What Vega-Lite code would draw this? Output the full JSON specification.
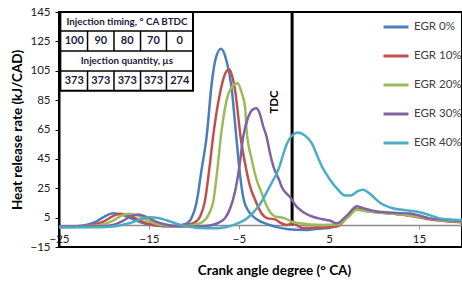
{
  "$schema": "https://vega.github.io/schema/vega-lite/v6.json",
  "width": 403,
  "height": 235,
  "autosize": {"type": "none"},
  "padding": {"left": 59, "top": 12, "right": 0, "bottom": 35},
  "background": "white",
  "config": {
    "font": "Lato",
    "view": {"stroke": "black", "strokeWidth": 2}
  },
  "datasets": {
    "curves": [
      {"s":"EGR 0%","x":-25,"y":-1},{"s":"EGR 0%","x":-23,"y":-0.8},{"s":"EGR 0%","x":-22,"y":0},{"s":"EGR 0%","x":-21,"y":2},{"s":"EGR 0%","x":-20,"y":5.5},{"s":"EGR 0%","x":-19,"y":8},{"s":"EGR 0%","x":-18,"y":7},{"s":"EGR 0%","x":-17,"y":4.5},{"s":"EGR 0%","x":-16,"y":2},{"s":"EGR 0%","x":-15,"y":0.3},{"s":"EGR 0%","x":-14,"y":-0.5},{"s":"EGR 0%","x":-13,"y":-0.9},{"s":"EGR 0%","x":-12,"y":-0.6},{"s":"EGR 0%","x":-11,"y":0.5},{"s":"EGR 0%","x":-10.4,"y":3.4},{"s":"EGR 0%","x":-9.7,"y":15.9},{"s":"EGR 0%","x":-9.15,"y":38},{"s":"EGR 0%","x":-8.6,"y":60},{"s":"EGR 0%","x":-8.0,"y":98},{"s":"EGR 0%","x":-7.6,"y":113},{"s":"EGR 0%","x":-7.0,"y":120},{"s":"EGR 0%","x":-6.4,"y":112},{"s":"EGR 0%","x":-5.8,"y":92},{"s":"EGR 0%","x":-5.3,"y":60},{"s":"EGR 0%","x":-4.9,"y":35},{"s":"EGR 0%","x":-4.5,"y":18},{"s":"EGR 0%","x":-4.0,"y":10},{"s":"EGR 0%","x":-3.6,"y":6.8},{"s":"EGR 0%","x":-2.8,"y":3},{"s":"EGR 0%","x":-2.1,"y":1.1},{"s":"EGR 0%","x":-1.5,"y":-0.2},{"s":"EGR 0%","x":-0.5,"y":-1.8},{"s":"EGR 0%","x":0.5,"y":-2.9},{"s":"EGR 0%","x":1.5,"y":-3.3},{"s":"EGR 0%","x":2.3,"y":-3.4},{"s":"EGR 0%","x":3.5,"y":-2.8},{"s":"EGR 0%","x":4.6,"y":-2.2},{"s":"EGR 0%","x":5.9,"y":-0.7},{"s":"EGR 0%","x":7,"y":6},{"s":"EGR 0%","x":8.1,"y":10.8},{"s":"EGR 0%","x":9,"y":9.6},{"s":"EGR 0%","x":10,"y":8.8},{"s":"EGR 0%","x":11,"y":8.3},{"s":"EGR 0%","x":12.5,"y":7.5},{"s":"EGR 0%","x":14,"y":6.5},{"s":"EGR 0%","x":15,"y":5.5},{"s":"EGR 0%","x":16,"y":4.5},{"s":"EGR 0%","x":17,"y":3.5},{"s":"EGR 0%","x":18,"y":2.8},{"s":"EGR 0%","x":19.8,"y":2},
      {"s":"EGR 10%","x":-25,"y":-1},{"s":"EGR 10%","x":-22,"y":-0.7},{"s":"EGR 10%","x":-21,"y":0.5},{"s":"EGR 10%","x":-20,"y":2.5},{"s":"EGR 10%","x":-19,"y":6},{"s":"EGR 10%","x":-18.2,"y":7.7},{"s":"EGR 10%","x":-17.2,"y":6.5},{"s":"EGR 10%","x":-16.2,"y":3.5},{"s":"EGR 10%","x":-15.2,"y":1},{"s":"EGR 10%","x":-14,"y":-0.4},{"s":"EGR 10%","x":-13,"y":-0.8},{"s":"EGR 10%","x":-12,"y":-0.8},{"s":"EGR 10%","x":-11,"y":-0.3},{"s":"EGR 10%","x":-10.5,"y":0.5},{"s":"EGR 10%","x":-9.9,"y":1.8},{"s":"EGR 10%","x":-9.3,"y":6},{"s":"EGR 10%","x":-8.8,"y":15.9},{"s":"EGR 10%","x":-8.3,"y":38},{"s":"EGR 10%","x":-7.86,"y":61},{"s":"EGR 10%","x":-7.1,"y":90},{"s":"EGR 10%","x":-6.6,"y":102},{"s":"EGR 10%","x":-6.1,"y":106},{"s":"EGR 10%","x":-5.7,"y":100},{"s":"EGR 10%","x":-5.44,"y":92},{"s":"EGR 10%","x":-4.78,"y":58},{"s":"EGR 10%","x":-4.2,"y":38},{"s":"EGR 10%","x":-3.8,"y":27},{"s":"EGR 10%","x":-3.2,"y":17},{"s":"EGR 10%","x":-2.5,"y":8},{"s":"EGR 10%","x":-1.8,"y":4.5},{"s":"EGR 10%","x":-1.0,"y":3.8},{"s":"EGR 10%","x":-0.3,"y":1.2},{"s":"EGR 10%","x":0.3,"y":0},{"s":"EGR 10%","x":1.0,"y":1.2},{"s":"EGR 10%","x":2.0,"y":-2},{"s":"EGR 10%","x":3.5,"y":-1.8},{"s":"EGR 10%","x":5,"y":-1.5},{"s":"EGR 10%","x":6,"y":-0.8},{"s":"EGR 10%","x":7,"y":5},{"s":"EGR 10%","x":8.1,"y":11},{"s":"EGR 10%","x":9,"y":9.8},{"s":"EGR 10%","x":10,"y":9},{"s":"EGR 10%","x":11,"y":8.3},{"s":"EGR 10%","x":12.5,"y":7.5},{"s":"EGR 10%","x":14,"y":6.3},{"s":"EGR 10%","x":15,"y":5.2},{"s":"EGR 10%","x":16,"y":4},{"s":"EGR 10%","x":17,"y":3.2},{"s":"EGR 10%","x":18,"y":2.5},{"s":"EGR 10%","x":19.8,"y":1.8},
      {"s":"EGR 20%","x":-25,"y":-1},{"s":"EGR 20%","x":-21,"y":-0.6},{"s":"EGR 20%","x":-20,"y":0.5},{"s":"EGR 20%","x":-19,"y":3},{"s":"EGR 20%","x":-18,"y":6.5},{"s":"EGR 20%","x":-17.3,"y":7.7},{"s":"EGR 20%","x":-16.3,"y":6.5},{"s":"EGR 20%","x":-15.3,"y":3.5},{"s":"EGR 20%","x":-14.3,"y":1},{"s":"EGR 20%","x":-13,"y":-0.6},{"s":"EGR 20%","x":-12,"y":-0.9},{"s":"EGR 20%","x":-10.5,"y":-0.5},{"s":"EGR 20%","x":-9.5,"y":0.8},{"s":"EGR 20%","x":-9.1,"y":1.8},{"s":"EGR 20%","x":-8.3,"y":8},{"s":"EGR 20%","x":-7.86,"y":15.9},{"s":"EGR 20%","x":-7.4,"y":38},{"s":"EGR 20%","x":-7.0,"y":61},{"s":"EGR 20%","x":-6.37,"y":85},{"s":"EGR 20%","x":-5.8,"y":94},{"s":"EGR 20%","x":-5.15,"y":96.5},{"s":"EGR 20%","x":-4.7,"y":90},{"s":"EGR 20%","x":-4.33,"y":80.5},{"s":"EGR 20%","x":-4.15,"y":64},{"s":"EGR 20%","x":-3.6,"y":45},{"s":"EGR 20%","x":-3.1,"y":32},{"s":"EGR 20%","x":-2.5,"y":22},{"s":"EGR 20%","x":-2.0,"y":14},{"s":"EGR 20%","x":-1.5,"y":8.5},{"s":"EGR 20%","x":-1.0,"y":5.8},{"s":"EGR 20%","x":-0.4,"y":5.3},{"s":"EGR 20%","x":0.1,"y":4.5},{"s":"EGR 20%","x":0.85,"y":2.3},{"s":"EGR 20%","x":2,"y":1},{"s":"EGR 20%","x":3,"y":0.3},{"s":"EGR 20%","x":4.2,"y":0},{"s":"EGR 20%","x":6,"y":0.3},{"s":"EGR 20%","x":7,"y":4.5},{"s":"EGR 20%","x":8.1,"y":10.3},{"s":"EGR 20%","x":9,"y":9.5},{"s":"EGR 20%","x":10,"y":8.8},{"s":"EGR 20%","x":11,"y":8.2},{"s":"EGR 20%","x":12.5,"y":7.5},{"s":"EGR 20%","x":14,"y":6.5},{"s":"EGR 20%","x":15,"y":5.5},{"s":"EGR 20%","x":16,"y":4.5},{"s":"EGR 20%","x":17,"y":3.5},{"s":"EGR 20%","x":18,"y":2.8},{"s":"EGR 20%","x":19.8,"y":2},
      {"s":"EGR 30%","x":-25,"y":-1},{"s":"EGR 30%","x":-20,"y":-0.8},{"s":"EGR 30%","x":-19,"y":0},{"s":"EGR 30%","x":-18,"y":2.5},{"s":"EGR 30%","x":-17,"y":6},{"s":"EGR 30%","x":-16.2,"y":7.2},{"s":"EGR 30%","x":-15.3,"y":5.5},{"s":"EGR 30%","x":-14.3,"y":2.5},{"s":"EGR 30%","x":-13.3,"y":0.5},{"s":"EGR 30%","x":-12,"y":-0.8},{"s":"EGR 30%","x":-10,"y":-1},{"s":"EGR 30%","x":-8.5,"y":-0.6},{"s":"EGR 30%","x":-8,"y":0},{"s":"EGR 30%","x":-7.3,"y":1.5},{"s":"EGR 30%","x":-6.56,"y":4.5},{"s":"EGR 30%","x":-6.0,"y":11},{"s":"EGR 30%","x":-5.44,"y":22.7},{"s":"EGR 30%","x":-5.0,"y":38},{"s":"EGR 30%","x":-4.5,"y":61},{"s":"EGR 30%","x":-4.0,"y":73},{"s":"EGR 30%","x":-3.5,"y":78.5},{"s":"EGR 30%","x":-3.1,"y":79.5},{"s":"EGR 30%","x":-2.7,"y":76},{"s":"EGR 30%","x":-2.3,"y":67},{"s":"EGR 30%","x":-1.93,"y":60},{"s":"EGR 30%","x":-1.56,"y":49},{"s":"EGR 30%","x":-1.19,"y":40},{"s":"EGR 30%","x":-0.5,"y":30},{"s":"EGR 30%","x":-0.26,"y":26},{"s":"EGR 30%","x":0.67,"y":19},{"s":"EGR 30%","x":1.4,"y":12.5},{"s":"EGR 30%","x":2.2,"y":8.5},{"s":"EGR 30%","x":3.2,"y":5.6},{"s":"EGR 30%","x":4.2,"y":4},{"s":"EGR 30%","x":5.1,"y":3},{"s":"EGR 30%","x":5.85,"y":1.1},{"s":"EGR 30%","x":7,"y":6.5},{"s":"EGR 30%","x":8.1,"y":12.8},{"s":"EGR 30%","x":9,"y":11},{"s":"EGR 30%","x":10,"y":9.5},{"s":"EGR 30%","x":11,"y":8.8},{"s":"EGR 30%","x":12.5,"y":8.2},{"s":"EGR 30%","x":14,"y":7.8},{"s":"EGR 30%","x":15,"y":6.5},{"s":"EGR 30%","x":16.2,"y":4.5},{"s":"EGR 30%","x":17.5,"y":3.8},{"s":"EGR 30%","x":18.5,"y":3.2},{"s":"EGR 30%","x":19.8,"y":2.5},
      {"s":"EGR 40%","x":-25,"y":-1.8},{"s":"EGR 40%","x":-21,"y":-1.6},{"s":"EGR 40%","x":-19,"y":-1},{"s":"EGR 40%","x":-18,"y":0},{"s":"EGR 40%","x":-17,"y":1.5},{"s":"EGR 40%","x":-16,"y":3.8},{"s":"EGR 40%","x":-15,"y":5.2},{"s":"EGR 40%","x":-14,"y":4.8},{"s":"EGR 40%","x":-13,"y":3},{"s":"EGR 40%","x":-12,"y":1},{"s":"EGR 40%","x":-11,"y":-0.8},{"s":"EGR 40%","x":-9.5,"y":-2},{"s":"EGR 40%","x":-8,"y":-2.3},{"s":"EGR 40%","x":-6.5,"y":-1.5},{"s":"EGR 40%","x":-5.1,"y":1.3},{"s":"EGR 40%","x":-4.2,"y":4},{"s":"EGR 40%","x":-3.5,"y":8},{"s":"EGR 40%","x":-2.8,"y":13},{"s":"EGR 40%","x":-2.3,"y":18},{"s":"EGR 40%","x":-1.6,"y":26},{"s":"EGR 40%","x":-0.6,"y":38},{"s":"EGR 40%","x":0.3,"y":55},{"s":"EGR 40%","x":1.0,"y":61.5},{"s":"EGR 40%","x":1.6,"y":63},{"s":"EGR 40%","x":2.3,"y":61},{"s":"EGR 40%","x":3.1,"y":55.6},{"s":"EGR 40%","x":3.7,"y":47},{"s":"EGR 40%","x":4.2,"y":40},{"s":"EGR 40%","x":5.1,"y":31},{"s":"EGR 40%","x":6.0,"y":24},{"s":"EGR 40%","x":6.8,"y":20},{"s":"EGR 40%","x":7.4,"y":20},{"s":"EGR 40%","x":8.2,"y":23},{"s":"EGR 40%","x":8.8,"y":24},{"s":"EGR 40%","x":9.5,"y":21.5},{"s":"EGR 40%","x":10.7,"y":15},{"s":"EGR 40%","x":12.1,"y":11.4},{"s":"EGR 40%","x":13.5,"y":10},{"s":"EGR 40%","x":14.7,"y":9.1},{"s":"EGR 40%","x":15.8,"y":7.5},{"s":"EGR 40%","x":17.3,"y":4.5},{"s":"EGR 40%","x":18.5,"y":3.8},{"s":"EGR 40%","x":19.8,"y":3.4}
    ],
    "tableBox": [{"x": -24.85, "x2": -10.11, "y": 145, "y2": 91.4}],
    "tableRules": [
      {"x": -24.85, "x2": -10.11, "y": 132.1, "y2": 132.1},
      {"x": -24.85, "x2": -10.11, "y": 118.4, "y2": 118.4},
      {"x": -24.85, "x2": -10.11, "y": 104.8, "y2": 104.8},
      {"x": -21.83, "x2": -21.83, "y": 132.1, "y2": 118.4},
      {"x": -18.89, "x2": -18.89, "y": 132.1, "y2": 118.4},
      {"x": -15.94, "x2": -15.94, "y": 132.1, "y2": 118.4},
      {"x": -13.06, "x2": -13.06, "y": 132.1, "y2": 118.4},
      {"x": -21.83, "x2": -21.83, "y": 104.8, "y2": 91.4},
      {"x": -18.89, "x2": -18.89, "y": 104.8, "y2": 91.4},
      {"x": -15.94, "x2": -15.94, "y": 104.8, "y2": 91.4},
      {"x": -13.06, "x2": -13.06, "y": 104.8, "y2": 91.4}
    ],
    "tableHead": [
      {"t": "Injection timing, ° CA BTDC", "x": -17.45, "y": 138.4},
      {"t": "Injection quantity, µs", "x": -17.45, "y": 111.4}
    ],
    "tableNum": [
      {"t": "100", "x": -23.3, "y": 125.2},
      {"t": "90", "x": -20.36, "y": 125.2},
      {"t": "80", "x": -17.42, "y": 125.2},
      {"t": "70", "x": -14.5, "y": 125.2},
      {"t": "0", "x": -11.58, "y": 125.2},
      {"t": "373", "x": -23.3, "y": 98.2},
      {"t": "373", "x": -20.36, "y": 98.2},
      {"t": "373", "x": -17.42, "y": 98.2},
      {"t": "373", "x": -14.5, "y": 98.2},
      {"t": "274", "x": -11.58, "y": 98.2}
    ],
    "tdc": [{"x": 0.9, "y": 0, "y2": 145}],
    "tdcText": [{"t": "TDC", "x": -1.0, "y": 83.7}]
  },
  "encoding": {
    "x": {
      "field": "x", "type": "quantitative",
      "scale": {"domain": [-25, 19.78], "nice": false, "zero": false},
      "axis": {
        "title": "Crank angle degree (° CA)",
        "values": [-25, -15, -5, 5, 15],
        "offset": -22,
        "domainColor": "#8c8c8c", "domainWidth": 1.5,
        "tickColor": "#8c8c8c", "tickSize": 4,
        "labelFontSize": 11.5, "labelColor": "#222222", "labelPadding": 4,
        "labelFlush": false, "labelOverlap": false,
        "grid": false,
        "titleFontSize": 13.5, "titleFontWeight": "bold", "titleColor": "#000000",
        "titleX": 215, "titleY": 45, "titleBaseline": "middle", "titleAnchor": "middle"
      }
    },
    "y": {
      "field": "y", "type": "quantitative",
      "scale": {"domain": [-15, 145], "nice": false, "zero": false},
      "axis": {
        "title": "Heat release rate (kJ/CAD)",
        "values": [-15, 5, 25, 45, 65, 85, 105, 125, 145],
        "domainColor": "#000000", "domainWidth": 2,
        "tickColor": "#000000", "tickSize": 4,
        "labelFontSize": 11.5, "labelColor": "#222222", "labelPadding": 5,
        "labelFlush": false, "labelOverlap": false,
        "grid": false,
        "titleFontSize": 13.5, "titleFontWeight": "bold", "titleColor": "#000000",
        "titleX": -42, "titleY": 117.5, "titleBaseline": "middle", "titleAnchor": "middle"
      }
    }
  },
  "layer": [
    {
      "data": {"name": "tableBox"},
      "mark": {"type": "rect", "fill": "white", "stroke": "black", "strokeWidth": 2},
      "encoding": {"x2": {"field": "x2"}, "y2": {"field": "y2"}}
    },
    {
      "data": {"name": "tableRules"},
      "mark": {"type": "rule", "stroke": "black", "strokeWidth": 1.5},
      "encoding": {"x2": {"field": "x2"}, "y2": {"field": "y2"}}
    },
    {
      "data": {"name": "tableHead"},
      "mark": {"type": "text", "fontSize": 9.8, "fontWeight": "bold", "color": "#1b1b3a", "baseline": "middle", "align": "center"},
      "encoding": {"text": {"field": "t"}}
    },
    {
      "data": {"name": "tableNum"},
      "mark": {"type": "text", "fontSize": 11, "fontWeight": "bold", "color": "#1b1b3a", "baseline": "middle", "align": "center"},
      "encoding": {"text": {"field": "t"}}
    },
    {
      "data": {"name": "tdc"},
      "mark": {"type": "rule", "stroke": "black", "strokeWidth": 3},
      "encoding": {"y2": {"field": "y2"}}
    },
    {
      "data": {"name": "tdcText"},
      "mark": {"type": "text", "fontSize": 11.5, "fontWeight": "bold", "color": "black", "angle": 270, "baseline": "middle", "align": "center"},
      "encoding": {"text": {"field": "t"}}
    },
    {
      "data": {"name": "curves"},
      "mark": {"type": "line", "strokeWidth": 2.5, "interpolate": "monotone", "clip": true},
      "encoding": {
        "color": {
          "field": "s", "type": "nominal",
          "scale": {"domain": ["EGR 0%", "EGR 10%", "EGR 20%", "EGR 30%", "EGR 40%"], "range": ["#4A7EBB", "#C0504D", "#9BBB59", "#8064A2", "#4BACC6"]},
          "legend": {
            "orient": "none", "legendX": 323, "legendY": 1, "title": null,
            "symbolType": "stroke", "symbolSize": 625, "symbolStrokeWidth": 3,
            "labelFontSize": 11.5, "labelColor": "#404040", "labelOffset": 4,
            "rowPadding": 9, "padding": 0
          }
        }
      }
    }
  ]
}
